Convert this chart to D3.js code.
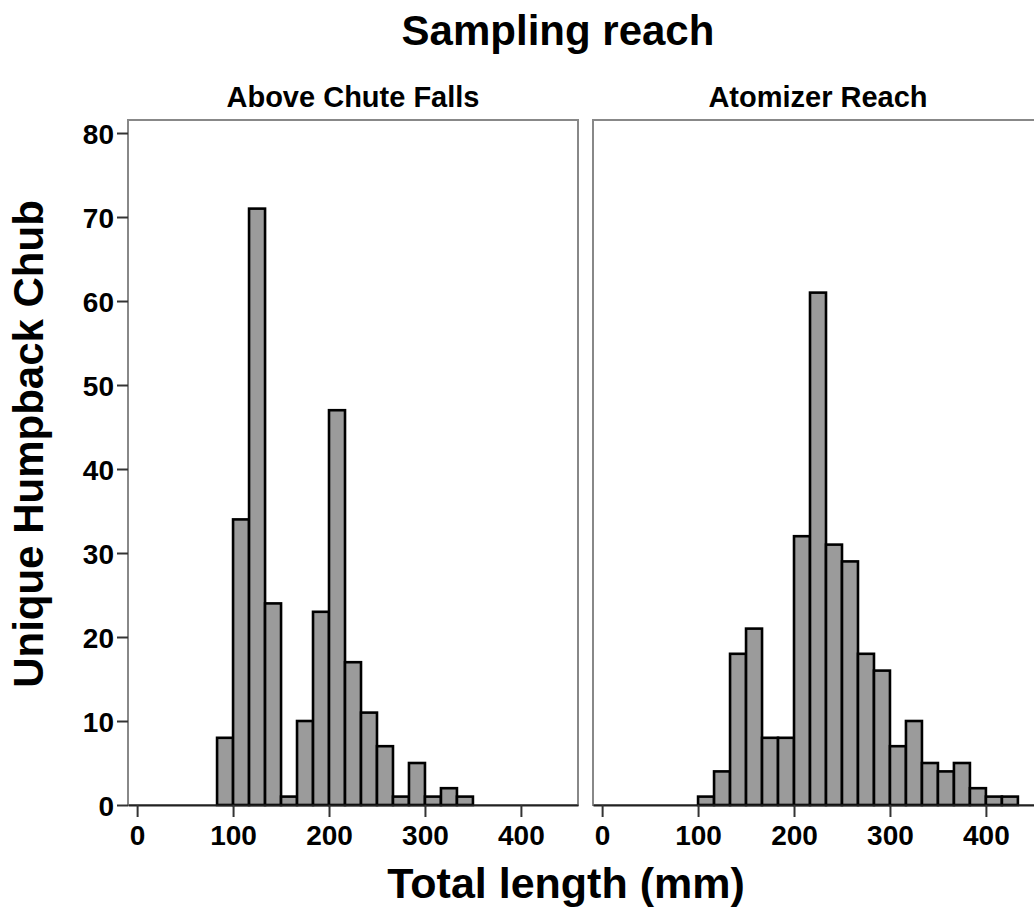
<!DOCTYPE html>
<html>
<head>
<meta charset="utf-8">
<script src="https://cdn.jsdelivr.net/npm/d3@7"></script>
<style>
  body { margin: 0; background: #fff; }
  svg text { font-family: "Liberation Sans", Arial, sans-serif; font-weight: bold; fill: #000; }
</style>
</head>
<body>
<svg id="chart" width="1034" height="914"></svg>
<script>

// panel names
var reaches = ['Above Chute Falls', 'Atomizer Reach'];

// histogram counts, one bar per 16.7 mm bin
var aboveChuteCounts = [8, 34, 71, 24, 1, 10, 23, 47, 17, 11, 7, 1, 5, 1, 2, 1];
var atomizerCounts = [1, 4, 18, 21, 8, 8, 32, 61, 31, 29, 18, 16, 7, 10, 5, 4, 5, 2, 1, 1];

// lower edge of first bin for each panel, and bin width (mm)
var firstBin = [83.33, 100];
var binWidth = 16.667;

var xTicks = [0, 100, 200, 300, 400];
var yTicks = [0, 10, 20, 30, 40, 50, 60, 70, 80];

var allCounts = [aboveChuteCounts, atomizerCounts];

var svg = d3.select('#chart');

var panelLeft = [128, 593],
    panelWidth = 450,
    plotTop = 120,
    plotBottom = 805;

var y = d3.scaleLinear().domain([0, 81.55]).range([plotBottom, plotTop]);

// Titles
svg.append('text')
    .attr('x', 558).attr('y', 45)
    .attr('text-anchor', 'middle')
    .style('font-size', '42px')
    .text('Sampling reach');

svg.append('text')
    .attr('transform', 'translate(43,' + 444 + ') rotate(-90)')
    .attr('text-anchor', 'middle')
    .style('font-size', '42px')
    .text('Unique Humpback Chub');

svg.append('text')
    .attr('x', 566).attr('y', 898)
    .attr('text-anchor', 'middle')
    .style('font-size', '43px')
    .text('Total length (mm)');

reaches.forEach(function(name, p) {

    var x0 = panelLeft[p];
    var x = d3.scaleLinear().domain([-9.5, 459.5]).range([x0, x0 + panelWidth]);

    var g = svg.append('g').attr('class', 'panel');

    // subtitle
    g.append('text')
        .attr('x', x0 + panelWidth / 2).attr('y', 107)
        .attr('text-anchor', 'middle')
        .style('font-size', '29px')
        .text(name);

    // frame
    g.append('rect')
        .attr('x', x0).attr('y', plotTop)
        .attr('width', panelWidth).attr('height', plotBottom - plotTop)
        .attr('fill', 'none')
        .attr('stroke', '#888')
        .attr('stroke-width', 2);

    // bars
    var counts = allCounts[p];
    g.selectAll('rect.bar')
        .data(counts).enter()
        .append('rect')
        .attr('class', 'bar')
        .attr('x', function(d, i){ return x(firstBin[p] + i * binWidth); })
        .attr('y', function(d){ return y(d); })
        .attr('width', function(d, i){ return x(firstBin[p] + (i + 1) * binWidth) - x(firstBin[p] + i * binWidth); })
        .attr('height', function(d){ return plotBottom - y(d); })
        .attr('fill', '#9b9b9b')
        .attr('stroke', '#000')
        .attr('stroke-width', 2.6);

    // x axis
    var xAxis = g.append('g')
        .attr('transform', 'translate(0,' + plotBottom + ')')
        .call(d3.axisBottom(x).tickValues(xTicks).tickSize(12).tickPadding(8).tickSizeOuter(0));
    xAxis.select('.domain').attr('stroke', '#222').attr('stroke-width', 2);
    xAxis.selectAll('.tick line').attr('stroke', '#333').attr('stroke-width', 2);
    xAxis.selectAll('.tick text')
        .style('font-size', '28px')
        .attr('fill', '#000');

    // y axis on the first panel only
    if (p == 0) {
        var yAxis = g.append('g')
            .attr('transform', 'translate(' + x0 + ',0)')
            .call(d3.axisLeft(y).tickValues(yTicks).tickSize(11).tickPadding(3).tickSizeOuter(0));
        yAxis.select('.domain').remove();
        yAxis.selectAll('.tick line').attr('stroke', '#333').attr('stroke-width', 2);
        yAxis.selectAll('.tick text')
            .style('font-size', '28px')
            .attr('dy', '0.36em')
            .attr('fill', '#000');
    }
});

</script>
</body>
</html>
